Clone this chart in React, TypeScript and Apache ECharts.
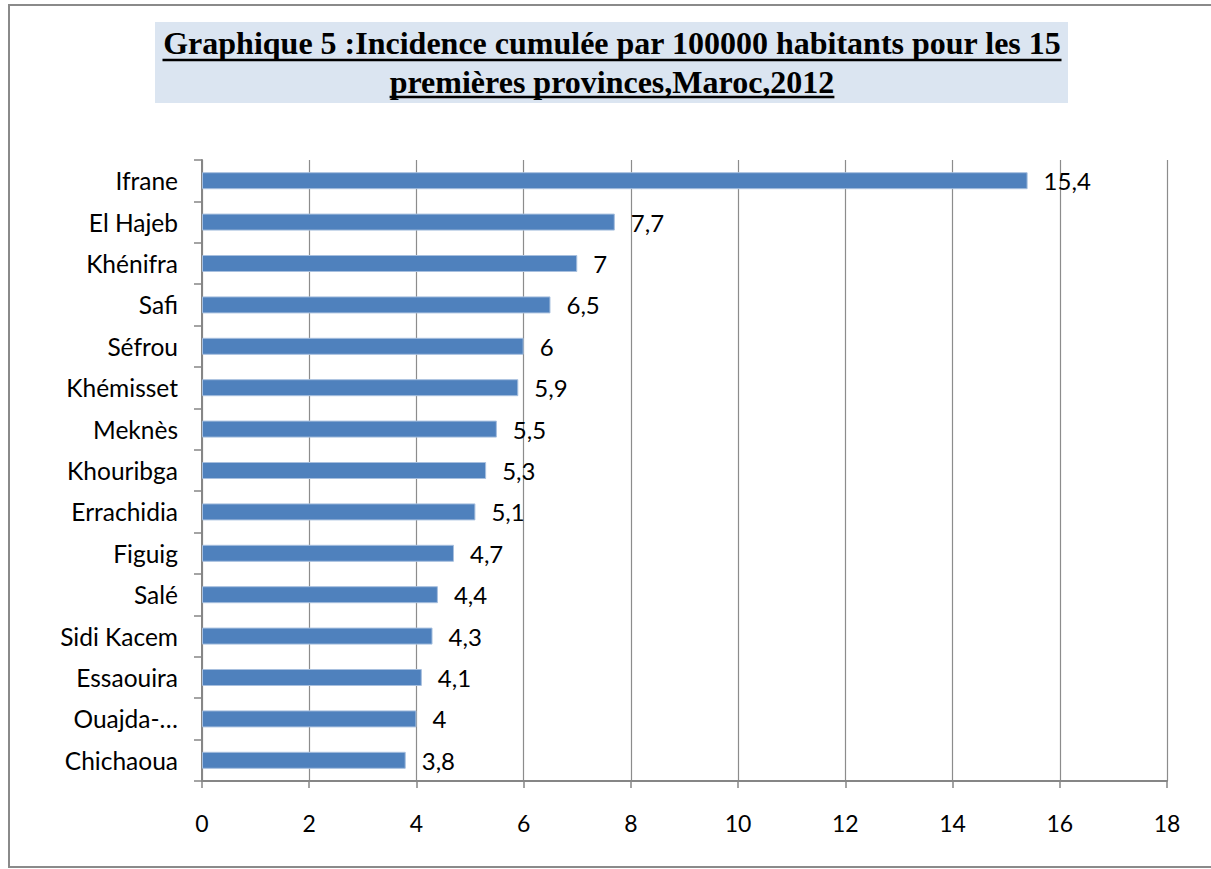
import React, { useEffect, useRef } from "react";
import * as echarts from "echarts";

// Provinces, top to bottom, and their cumulative incidence per 100 000 inhabitants
const provinces = [
  "Ifrane",
  "El Hajeb",
  "Khénifra",
  "Safi",
  "Séfrou",
  "Khémisset",
  "Meknès",
  "Khouribga",
  "Errachidia",
  "Figuig",
  "Salé",
  "Sidi Kacem",
  "Essaouira",
  "Ouajda-…",
  "Chichaoua",
];
const incidence = [15.4, 7.7, 7, 6.5, 6, 5.9, 5.5, 5.3, 5.1, 4.7, 4.4, 4.3, 4.1, 4, 3.8];

// Value axis range and step
const axisMin = 0;
const axisMax = 18;
const axisStep = 2;

const titleLines = [
  "Graphique 5 :Incidence cumulée par 100000 habitants pour les 15",
  "premières provinces,Maroc,2012",
];

const TITLE_FONT = 'bold 32px "Liberation Serif", "Times New Roman", serif';

function measure(text: string): number {
  const c = document.createElement("canvas").getContext("2d");
  if (!c) return text.length * 16;
  c.font = TITLE_FONT;
  return c.measureText(text).width;
}

export default function App() {
  const ref = useRef<HTMLDivElement>(null);

  useEffect(() => {
    if (!ref.current) return;
    const chart = echarts.init(ref.current, undefined, { renderer: "svg" });

    const cx = 612;
    const w1 = measure(titleLines[0]);
    const w2 = measure(titleLines[1]);
    const sx = 899 / w1;
    const u1 = w1 * sx;
    const u2 = w2 * sx;

    const labelFont = "Lato, Carlito, Calibri, sans-serif";

    chart.setOption({
      animation: false,
      backgroundColor: "#ffffff",
      grid: { left: 202, right: 44, top: 160, bottom: 88, containLabel: false },
      xAxis: {
        type: "value",
        min: axisMin,
        max: axisMax,
        interval: axisStep,
        axisLine: { show: true, lineStyle: { color: "#868686", width: 2 } },
        axisTick: { show: true, length: 7, lineStyle: { color: "#868686", width: 1.5 } },
        splitLine: { show: true, lineStyle: { color: "#8c8c8c", width: 1.2 } },
        axisLabel: { color: "#000", fontFamily: labelFont, fontSize: 23, margin: 30 },
      },
      yAxis: {
        type: "category",
        inverse: true,
        data: provinces,
        axisLine: { show: true, lineStyle: { color: "#868686", width: 2 } },
        axisTick: { show: true, length: 8, alignWithLabel: false, lineStyle: { color: "#868686", width: 1.5 } },
        axisLabel: { color: "#000", fontFamily: labelFont, fontSize: 24.5, margin: 24 },
        splitLine: { show: false },
      },
      series: [
        {
          type: "bar",
          data: incidence,
          barWidth: 17,
          itemStyle: { color: "#4f81bd", borderColor: "#a7bfde", borderWidth: 1 },
          label: {
            show: true,
            position: "right",
            distance: 16,
            color: "#000",
            fontFamily: labelFont,
            fontSize: 24,
            formatter: (p: any) => String(p.value).replace(".", ","),
          },
        },
      ],
      graphic: [
        {
          type: "rect",
          z: -10,
          shape: { x: 9, y: 5, width: 1300, height: 862 },
          style: { fill: "none", stroke: "#8a8a8a", lineWidth: 2 },
        },
        {
          type: "rect",
          shape: { x: 155, y: 22, width: 913, height: 81 },
          style: { fill: "#dbe5f1" },
        },
        {
          type: "text",
          x: cx,
          y: 43,
          scaleX: sx,
          style: {
            text: titleLines[0],
            font: TITLE_FONT,
            fill: "#000",
            textAlign: "center",
            textVerticalAlign: "middle",
          },
        },
        {
          type: "line",
          shape: { x1: cx - u1 / 2, y1: 60, x2: cx + u1 / 2, y2: 60 },
          style: { stroke: "#000", lineWidth: 2.5 },
        },
        {
          type: "text",
          x: cx,
          y: 82,
          scaleX: sx,
          style: {
            text: titleLines[1],
            font: TITLE_FONT,
            fill: "#000",
            textAlign: "center",
            textVerticalAlign: "middle",
          },
        },
        {
          type: "line",
          shape: { x1: cx - u2 / 2, y1: 97, x2: cx + u2 / 2, y2: 97 },
          style: { stroke: "#000", lineWidth: 2.5 },
        },
      ],
    });

    return () => chart.dispose();
  }, []);

  return (
    <div
      ref={ref}
      style={{ position: "absolute", left: 0, top: 0, width: 1211, height: 869 }}
    />
  );
}
